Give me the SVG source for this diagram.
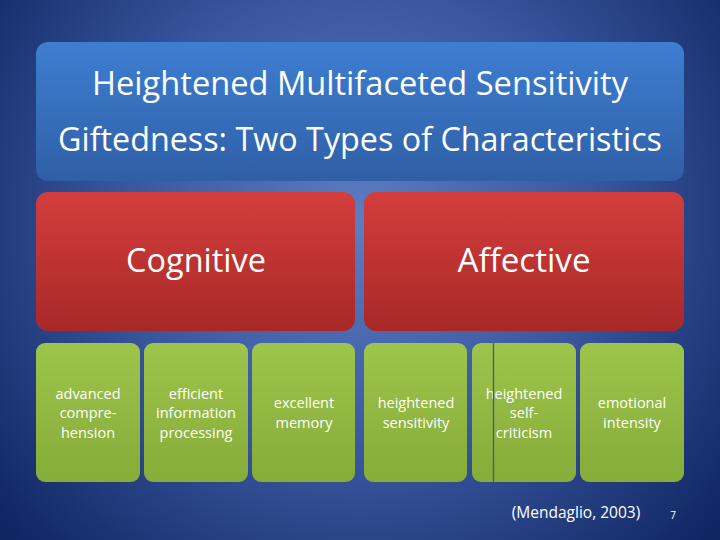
<svg xmlns="http://www.w3.org/2000/svg" width="720" height="540" viewBox="0 0 720 540">
<defs>
<radialGradient id="bg" cx="360" cy="220" r="470" gradientUnits="userSpaceOnUse">
<stop offset="0" stop-color="#5c7cc4"/>
<stop offset="0.5" stop-color="#3a569e"/>
<stop offset="1" stop-color="#0e2662"/>
</radialGradient>
<linearGradient id="blue" x1="0" y1="0" x2="0" y2="1">
<stop offset="0" stop-color="#3e7ed2"/>
<stop offset="1" stop-color="#2f5fa6"/>
</linearGradient>
<linearGradient id="red" x1="0" y1="0" x2="0" y2="1">
<stop offset="0" stop-color="#d33e3c"/>
<stop offset="1" stop-color="#a82828"/>
</linearGradient>
<linearGradient id="green" x1="0" y1="0" x2="0" y2="1">
<stop offset="0" stop-color="#9dc44b"/>
<stop offset="1" stop-color="#86ac39"/>
</linearGradient>
<style>
.t{font-family:"Open Sans","Liberation Sans",sans-serif;fill:#ffffff;text-anchor:middle}
.big{font-size:32px}
.sm{font-size:14.5px}
.blue{fill:url(#blue)}
.red{fill:url(#red)}
.green{fill:url(#green)}
</style>
</defs>
<rect width="720" height="540" fill="url(#bg)"/>
<g id="title">
<rect class="blue" x="36" y="42" width="648" height="139" rx="12"/>
<text class="t big" x="360" y="95" textLength="536" lengthAdjust="spacingAndGlyphs">Heightened Multifaceted Sensitivity</text>
<text class="t big" x="360" y="151" textLength="604" lengthAdjust="spacingAndGlyphs">Giftedness: Two Types of Characteristics</text>
</g>
<g id="cognitive">
<rect class="red" x="36" y="192" width="319" height="139" rx="12"/>
<text class="t big" x="196" y="272" textLength="140" lengthAdjust="spacingAndGlyphs">Cognitive</text>
</g>
<g id="affective">
<rect class="red" x="364" y="192" width="320" height="139" rx="12"/>
<text class="t big" x="524" y="272" textLength="133" lengthAdjust="spacingAndGlyphs">Affective</text>
</g>
<g id="advanced">
<rect class="green" x="36" y="343" width="104" height="139" rx="9"/>
<text class="t sm" x="88" y="399">advanced</text>
<text class="t sm" x="88" y="418">compre-</text>
<text class="t sm" x="88" y="438">hension</text>
</g>
<g id="efficient">
<rect class="green" x="144" y="343" width="104" height="139" rx="9"/>
<text class="t sm" x="196" y="399">efficient</text>
<text class="t sm" x="196" y="418">information</text>
<text class="t sm" x="196" y="438">processing</text>
</g>
<g id="memory">
<rect class="green" x="252" y="343" width="103" height="139" rx="9"/>
<text class="t sm" x="304" y="408">excellent</text>
<text class="t sm" x="304" y="428">memory</text>
</g>
<g id="sensitivity">
<rect class="green" x="364" y="343" width="103" height="139" rx="9"/>
<text class="t sm" x="416" y="408">heightened</text>
<text class="t sm" x="416" y="428">sensitivity</text>
</g>
<g id="selfcriticism">
<rect class="green" x="472" y="343" width="104" height="139" rx="9"/>
<text class="t sm" x="524" y="399">heightened</text>
<text class="t sm" x="524" y="418">self-</text>
<text class="t sm" x="524" y="438">criticism</text>
<line x1="493.5" y1="343" x2="493.5" y2="482" stroke="#3f5a86" stroke-width="1.3"/>
</g>
<g id="intensity">
<rect class="green" x="580" y="343" width="104" height="139" rx="9"/>
<text class="t sm" x="632" y="408">emotional</text>
<text class="t sm" x="632" y="428">intensity</text>
</g>
<g id="connectors"></g>
<text class="t" x="576" y="518" font-size="15.5">(Mendaglio, 2003)</text>
<text class="t" x="673" y="519" font-size="10">7</text>
</svg>
